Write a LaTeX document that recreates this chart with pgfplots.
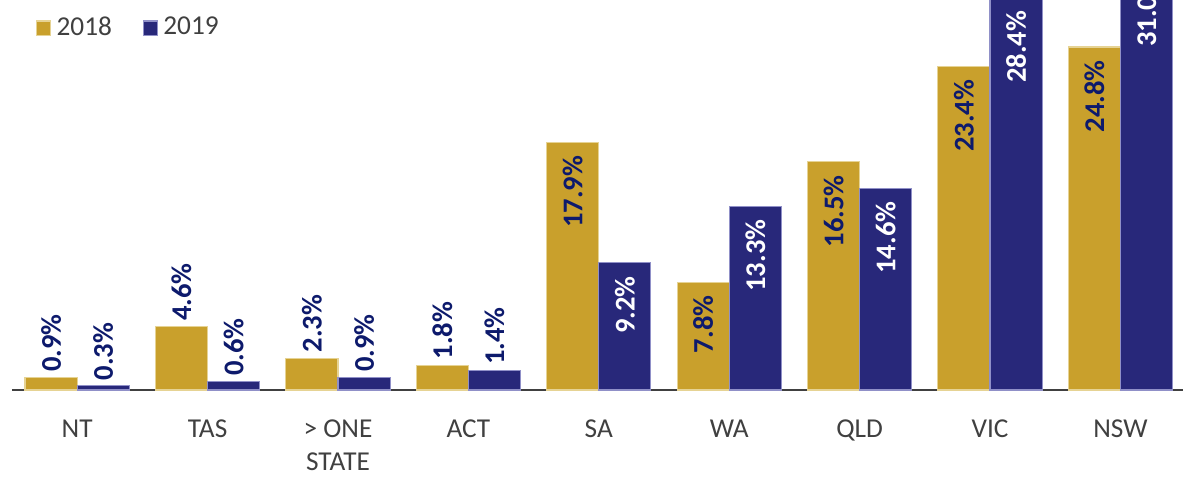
\documentclass[border=0pt]{standalone}
\usepackage{pgfplots}
\pgfplotsset{compat=1.18}
\usepackage{fontspec}
\setmainfont{Carlito}
\definecolor{gold}{HTML}{C9A02C}
\definecolor{goldedge}{HTML}{E6D394}
\definecolor{navy}{HTML}{28287A}
\definecolor{navyedge}{HTML}{9090C8}
\definecolor{lblnavy}{HTML}{0D1A6C}
\definecolor{axisgray}{HTML}{404040}
\pgfplotsset{
  sq legend/.style={legend image code/.code={\draw[##1] (0cm,-0.095cm) rectangle (0.19cm,0.095cm);}},
  lbl out/.style={every node near coord/.append style={anchor=west, text=lblnavy, inner xsep=2pt}},
  lbl in/.style={every node near coord/.append style={anchor=east, text=#1, inner xsep=5pt}},
}
\begin{document}
\begin{tikzpicture}
\begin{axis}[
    scale only axis,
    width=15.838cm, height=5.275cm,
    clip=false,
    ybar=0pt, bar width=0.4,
    xmin=-0.5, xmax=8.48, ymin=0, ymax=28.2,
    axis x line*=bottom, axis y line=none,
    x axis line style={axisgray, line width=1.1pt, -},
    xtick={0,...,8},
    xticklabels={NT,TAS,{> ONE\\STATE},ACT,SA,WA,QLD,VIC,NSW},
    major tick length=0pt,
    xticklabel style={align=center, font=\fontsize{10.5}{12.8}\selectfont, text=axisgray, yshift=-8pt},
    nodes near coords={\pgfmathprintnumber[fixed,fixed zerofill,precision=1]{\pgfplotspointmeta}\%},
    /pgf/number format/assume math mode=true,
    every node near coord/.append style={rotate=90, font=\fontsize{11}{13}\selectfont\bfseries},
    legend style={at={(0.0137,0.985)}, anchor=north west, draw=none, fill=none,
        font=\fontsize{10.5}{12}\selectfont, text=axisgray,
        /tikz/every even column/.append style={column sep=10pt}},
    legend columns=2,
]
% 2018
\addplot[fill=gold, draw=goldedge, line width=0.4pt, bar shift=-0.2, sq legend, lbl out]
    coordinates {(0,0.9) (1,4.6) (2,2.3) (3,1.8)};
\addlegendentry{2018}
\addplot[fill=gold, draw=goldedge, line width=0.4pt, bar shift=-0.2, forget plot, lbl in=lblnavy]
    coordinates {(4,17.9) (5,7.8) (6,16.5) (7,23.4) (8,24.8)};
% 2019
\addplot[fill=navy, draw=navyedge, line width=0.4pt, bar shift=0.2, sq legend, lbl out]
    coordinates {(0,0.3) (1,0.6) (2,0.9) (3,1.4)};
\addlegendentry{2019}
\addplot[fill=navy, draw=navyedge, line width=0.4pt, bar shift=0.2, forget plot, lbl in=white]
    coordinates {(4,9.2) (5,13.3) (6,14.6) (7,28.4) (8,31.0)};
\end{axis}
\pgfresetboundingbox
\path[use as bounding box] ([xshift=-0.162cm,yshift=-1.217cm]current axis.south west) rectangle (current axis.north east);
\end{tikzpicture}
\end{document}
